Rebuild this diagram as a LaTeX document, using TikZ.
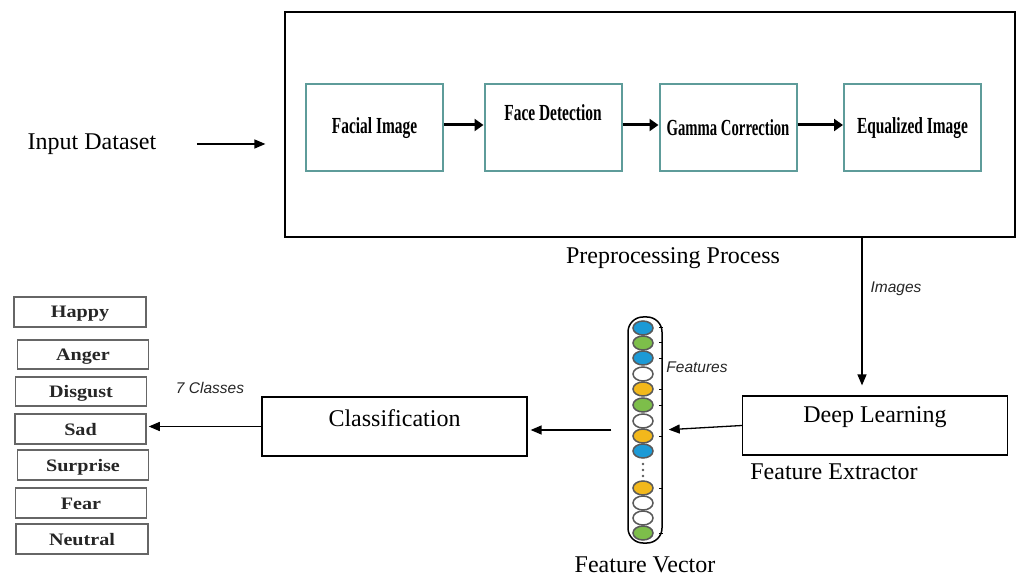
\documentclass[tikz,border=0pt]{standalone}
\usepackage{fontspec}
\setmainfont{Liberation Serif}
\newfontfamily\notefont{Liberation Sans}
\usetikzlibrary{shapes.geometric, arrows.meta, positioning}

\definecolor{boxteal}{HTML}{5E9C9A}
\definecolor{nblue}{HTML}{1C9AD6}
\definecolor{ngreen}{HTML}{7DBE4A}
\definecolor{nyellow}{HTML}{F2B81C}

\newcommand{\squeeze}[1]{\scalebox{0.67}[1]{#1}}
\newcommand{\widen}[1]{\scalebox{1.15}[1]{#1}}

\begin{document}
\begin{tikzpicture}[x=1pt,y=-1pt]
\tikzset{
caption/.style={font=\fontsize{24}{26}\selectfont},
box/.style={draw, line width=1.2pt, minimum width=265pt, minimum height=59pt},
raised/.style={label={[caption, yshift=8pt]center:#1}},
procbox/.style={draw=boxteal, line width=2pt, minimum width=137pt, minimum height=87pt,
  font=\fontsize{23}{25}\selectfont\bfseries},
procfont/.style={font=\fontsize{23}{25}\selectfont\bfseries},
classbox/.style={draw=gray!80!black, line width=1.5pt, minimum width=131pt, minimum height=30pt,
  text height=14pt, text depth=2pt, font=\fontsize{17.5}{20}\selectfont\bfseries, text=black!85},
neuron/.style={draw=gray!70!black, ellipse, line width=1.5pt, minimum width=20pt, minimum height=14pt, inner sep=0pt},
arr/.style={-{Triangle[length=11pt,width=9pt]}, line width=1.3pt},
thickarr/.style={-{Triangle[length=9pt,width=12pt]}, line width=3pt},
note/.style={font=\notefont\itshape\fontsize{15.5}{17}\selectfont, text=gray!30!black}
}

	\useasboundingbox (0,0) rectangle (1021,580);

	% preprocessing
	\node[caption] (input) at (92,144) {Input Dataset};
	\node[draw, line width=1.2pt, minimum width=730pt, minimum height=225pt,
	  label={[caption, xshift=23pt, label distance=6pt]below:Preprocessing Process}] (pre) at (650,124.5) {};

	\node[procbox] (fi) at (374.5,128) {\squeeze{Facial Image}};
	\node[procbox, label={[procfont, yshift=15pt]center:\squeeze{Face Detection}}] (fd) at (553,128) {};
	\node[procbox] (gc) at (728,128) {\scalebox{0.64}[1]{Gamma Correction}};
	\node[procbox] (ei) at (912.5,128) {\squeeze{Equalized Image}};

	\draw[arr, shorten <=37pt, shorten >=19pt] (input.east) -- (input.east -| pre.west);
	\draw[thickarr] ([yshift=3pt]fi.east) -- ([yshift=3pt]fi.east -| fd.west);
	\draw[thickarr] ([yshift=3pt]fd.east) -- ([yshift=3pt]fd.east -| gc.west);
	\draw[thickarr] ([yshift=3pt]gc.east) -- ([yshift=3pt]gc.east -| ei.west);

	% feature extraction
	\node[box, raised=Deep Learning,
	  label={[caption, xshift=-41pt, label distance=5pt]below:Feature Extractor}] (dl) at (875,425.5) {};
	\node[note] (imgs) at (896,289) {Images};
	\draw[arr, shorten >=10pt] ([xshift=-13pt]dl.north |- pre.south) -- ([xshift=-13pt]dl.north);

	% feature vector
	\node[draw, line width=1.5pt, rounded corners=15pt, minimum width=34pt, minimum height=226pt,
	  label={[caption, label distance=10pt]below:Feature Vector}] (vec) at (645,430) {};
	\node[neuron, fill=nblue] (n1) at (643,328) {};
	\node[neuron, fill=ngreen] (n2) at (643,343) {};
	\node[neuron, fill=nblue] (n3) at (643,358) {};
	\node[neuron, fill=white] (n4) at (643,374) {};
	\node[neuron, fill=nyellow] (n5) at (643,389) {};
	\node[neuron, fill=ngreen] (n6) at (643,405) {};
	\node[neuron, fill=white] (n7) at (643,421) {};
	\node[neuron, fill=nyellow] (n8) at (643,436) {};
	\node[neuron, fill=nblue] (n9) at (643,451) {};
	\foreach \y in {464,470,476}
		\fill[gray!70!black] (643,\y) circle (1.3);
	\node[neuron, fill=nyellow] (n10) at (643,488) {};
	\node[neuron, fill=white] (n11) at (643,503) {};
	\node[neuron, fill=white] (n12) at (643,518) {};
	\node[neuron, fill=ngreen] (n13) at (643,533) {};
	\foreach \n in {n1,n2,n3,n5,n6,n8,n10,n13}
		\draw[line width=1pt] ([xshift=5pt]\n.east) -- ++(4,0);
	\node[note] (feat) at (697,367) {Features};

	\draw[arr, shorten >=6pt] (dl.west) -- (vec.east);

	% classification
	\node[box, raised=Classification] (cls) at (394.5,426.5) {};
	\draw[arr, shorten <=16pt, shorten >=3pt] (vec.west) -- (vec.west -| cls.east);

	\node[classbox, minimum width=132pt] (happy) at (80,312) {\widen{Happy}};
	\node[classbox, minimum height=29pt] (anger) at (83,354.5) {\widen{Anger}};
	\node[classbox, minimum height=29pt] (disgust) at (81,391.5) {\widen{Disgust}};
	\node[classbox] (sad) at (80.5,429) {\widen{Sad}};
	\node[classbox] (surprise) at (83,465) {\widen{Surprise}};
	\node[classbox] (fear) at (81,503) {\widen{Fear}};
	\node[classbox, minimum width=132pt] (neutral) at (82,539) {\widen{Neutral}};

	\node[note] (ncls) at (210,388) {7 Classes};
	\draw[arr, shorten >=2pt] (cls.west) -- (cls.west -| sad.east);

\end{tikzpicture}
\end{document}
